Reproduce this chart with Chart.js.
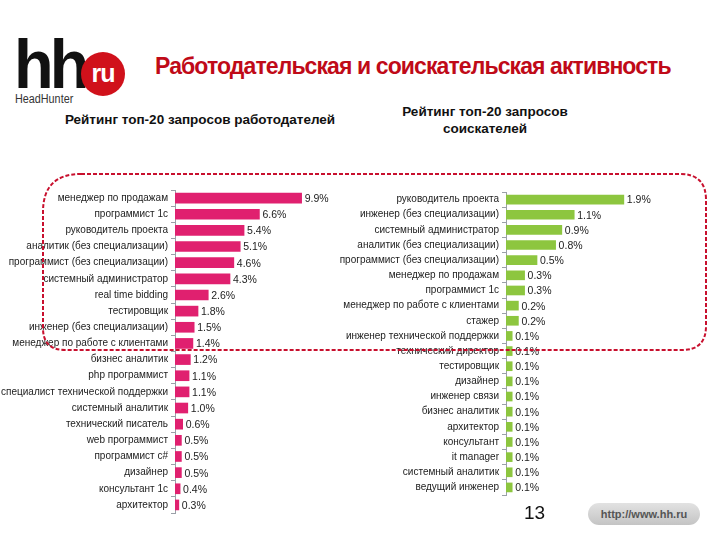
<!DOCTYPE html>
<html>
<head>
<meta charset="utf-8">
<script src="https://cdn.jsdelivr.net/npm/chart.js@4.4.1/dist/chart.umd.min.js"></script>
<style>
  html, body { margin: 0; padding: 0; background: #fff; }
  body { width: 720px; height: 540px; position: relative; overflow: hidden; font-family: "Liberation Sans", Arial, sans-serif; }
  .abs { position: absolute; }
  #logoHH { left: 14px; top: 30px; font-size: 69px; font-weight: bold; letter-spacing: -4px; color: #111; line-height: 1; transform: scaleX(0.94); transform-origin: left top; }
  #logoRu { left: 81px; top: 52px; width: 44px; height: 44px; border-radius: 50%; background: #d0111b; color: #fff; font-size: 25px; font-weight: bold; text-align: center; line-height: 42px; letter-spacing: -1px; }
  #logoHead { left: 15px; top: 92px; font-size: 12px; color: #333; transform: scaleX(0.9); transform-origin: left top; }
  #title { left: 155px; top: 53px; font-size: 23px; font-weight: bold; color: #c00a18; white-space: nowrap; letter-spacing: -0.9px; }
  #sub1 { left: 40px; width: 320px; top: 112px; text-align: center; font-size: 13.5px; font-weight: bold; color: #111; }
  #sub2 { left: 385px; width: 200px; top: 103px; text-align: center; font-size: 13.5px; font-weight: bold; color: #111; line-height: 17px; }
  #page { left: 524px; top: 502px; font-size: 19px; color: #111; }
  #url { left: 588px; top: 503px; width: 112px; height: 22px; border-radius: 11px; background: linear-gradient(#e2e2e2, #c4c4c4); color: #555; font-size: 11px; font-weight: bold; text-align: center; line-height: 22px; }
  #overlay { left: 0; top: 0; pointer-events: none; }
</style>
</head>
<body>
<div id="logoHH" class="abs">hh</div>
<div id="logoRu" class="abs">ru</div>
<div id="logoHead" class="abs">HeadHunter</div>
<div id="title" class="abs">Работодательская и соискательская активность</div>
<div id="sub1" class="abs">Рейтинг топ-20 запросов работодателей</div>
<div id="sub2" class="abs">Рейтинг топ-20 запросов<br>соискателей</div>
<canvas id="empChart" class="abs" width="340" height="341" style="left:0;top:181px;"></canvas>
<canvas id="seekChart" class="abs" width="390" height="321" style="left:330px;top:183px;"></canvas>
<div id="page" class="abs">13</div>
<div id="url" class="abs">http://www.hh.ru</div>
<canvas id="overlay" class="abs" width="720" height="540"></canvas>
<script>
const empLabels = [
  "менеджер по продажам", "программист 1с", "руководитель проекта",
  "аналитик (без специализации)", "программист (без специализации)",
  "системный администратор", "real time bidding", "тестировщик",
  "инженер (без специализации)", "менеджер по работе с клиентами",
  "бизнес аналитик", "php программист", "специалист технической поддержки",
  "системный аналитик", "технический писатель", "web программист",
  "программист c#", "дизайнер", "консультант 1с", "архитектор"
];
const empValues = [9.9, 6.6, 5.4, 5.1, 4.6, 4.3, 2.6, 1.8, 1.5, 1.4, 1.2, 1.1, 1.1, 1.0, 0.6, 0.5, 0.5, 0.5, 0.4, 0.3];

const seekLabels = [
  "руководитель проекта", "инженер (без специализации)", "системный администратор",
  "аналитик (без специализации)", "программист (без специализации)",
  "менеджер по продажам", "программист 1с", "менеджер по работе с клиентами",
  "стажер", "инженер технической поддержки", "технический директор",
  "тестировщик", "дизайнер", "инженер связи", "бизнес аналитик",
  "архитектор", "консультант", "it manager", "системный аналитик", "ведущий инженер"
];
const seekValues = [1.9, 1.1, 0.9, 0.8, 0.5, 0.3, 0.3, 0.2, 0.2, 0.1, 0.1, 0.1, 0.1, 0.1, 0.1, 0.1, 0.1, 0.1, 0.1, 0.1];

const valueLabels = {
  id: 'valueLabels',
  afterDatasetsDraw(chart) {
    const ctx = chart.ctx;
    const meta = chart.getDatasetMeta(0);
    const vals = chart.data.datasets[0].data;
    ctx.save();
    ctx.font = '10.5px "Liberation Sans", Arial, sans-serif';
    ctx.fillStyle = '#222';
    ctx.textAlign = 'left';
    ctx.textBaseline = 'middle';
    meta.data.forEach((el, i) => {
      ctx.fillText(vals[i].toFixed(1) + '%', el.x + 3, el.y + 1);
    });
    ctx.restore();
  }
};

function makeChart(id, labels, values, color, axisWidth, xMax, thickness) {
  return new Chart(document.getElementById(id), {
    type: 'bar',
    data: { labels: labels, datasets: [{ data: values, backgroundColor: color, borderWidth: 0, barThickness: thickness }] },
    options: {
      indexAxis: 'y',
      responsive: false,
      animation: false,
      devicePixelRatio: 1,
      layout: { padding: 0 },
      plugins: { legend: { display: false }, tooltip: { enabled: false } },
      scales: {
        x: { display: false, min: 0, max: xMax },
        y: {
          afterFit(scale) { scale.width = axisWidth; },
          grid: { display: true, drawOnChartArea: false, drawTicks: true, tickLength: 4, color: '#9aa0a8' },
          border: { display: true, color: '#9aa0a8', width: 1 },
          ticks: { color: '#222', padding: 3, font: { size: 10, family: '"Liberation Sans", Arial, sans-serif' }, autoSkip: false }
        }
      }
    },
    plugins: [valueLabels]
  });
}

makeChart('empChart', empLabels, empValues, '#e0206f', 175, 12.9, 10);
makeChart('seekChart', seekLabels, seekValues, '#8dc63f', 176, 3.45, 9);

// dashed rounded highlight frame
(function () {
  const c = document.getElementById('overlay');
  const ctx = c.getContext('2d');
  const x0 = 43, y0 = 174, x1 = 706, y1 = 350;
  const rTL = 38, rTR = 26, rBR = 24, rBL = 22;
  ctx.strokeStyle = '#c8102e';
  ctx.lineWidth = 2;
  ctx.setLineDash([4, 2]);
  ctx.beginPath();
  ctx.moveTo(x0 + rTL, y0);
  ctx.lineTo(x1 - rTR, y0);
  ctx.quadraticCurveTo(x1, y0, x1, y0 + rTR);
  ctx.lineTo(x1, y1 - rBR);
  ctx.quadraticCurveTo(x1, y1, x1 - rBR, y1);
  ctx.lineTo(x0 + rBL, y1);
  ctx.quadraticCurveTo(x0, y1, x0, y1 - rBL);
  ctx.lineTo(x0, y0 + rTL);
  ctx.quadraticCurveTo(x0, y0, x0 + rTL, y0);
  ctx.stroke();
})();
</script>
</body>
</html>
